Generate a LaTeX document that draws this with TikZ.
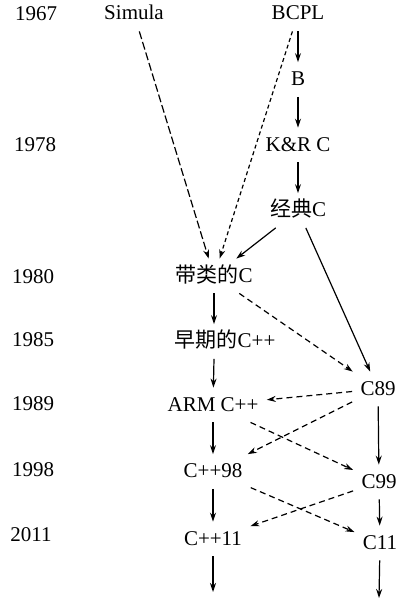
\documentclass[tikz,border=0pt]{standalone}
\usepackage{fontspec}
\setmainfont{Liberation Serif}
\newfontfamily\cjk{Noto Sans CJK SC}
\usetikzlibrary{arrows.meta, positioning}

\begin{document}
\begin{tikzpicture}[
        x=0.5bp, y=-0.5bp,
        node distance=32.75bp,
        font=\fontsize{10.5bp}{12bp}\selectfont,
        % Node styles
        year/.style={inner sep=0pt},
        lang/.style={inner xsep=4bp, inner ysep=4bp, text height=7.5bp, text depth=1.5bp},
        arrow/.style={line width=0.6bp, -{Stealth[length=4.5bp, width=3bp]}},
        longdash/.style={arrow, dash pattern=on 4bp off 1.5bp},
        shortdash/.style={arrow, dash pattern=on 2bp off 1.5bp},
        middash/.style={arrow, dash pattern=on 3bp off 2bp}
    ]
        \useasboundingbox (0,0) rectangle (396,600);

        % Years on the left
        \node[year] (y1967) at (36,14) {1967};
        \node[year] (y1978) at (35,145) {1978};
        \node[year] (y1980) at (33,277) {1980};
        \node[year] (y1985) at (33,340) {1985};
        \node[year] (y1989) at (33,404) {1989};
        \node[year] (y1998) at (33,470) {1998};
        \node[year] (y2011) at (31,535) {2011};

        % Languages
        \node[lang] (simula) at (134,14) {Simula};
        \node[lang] (bcpl) at (298,14) {BCPL};
        \node[lang, below of=bcpl] (b) {B};
        \node[lang, below of=b] (kr) {K\&R C};
        \node[lang, below of=kr] (classic) {{\cjk 经典}C};

        \node[lang] (withc) at (214,276) {{\cjk 带类的}C};
        \node[lang, below of=withc, xshift=5.5bp] (early) {{\cjk 早期的}C++};
        \node[lang] (armcpp) at (213,405) {ARM C++};
        \node[lang, below of=armcpp, yshift=-0.5bp] (cpp98) {C++98};
        \node[lang, below of=cpp98, yshift=-1bp] (cpp11) {C++11};

        \node[lang] (c89) at (378,389) {C89};
        \node[lang] (c99) at (379,482) {C99};
        \node[lang] (c11) at (380,543) {C11};

        % Free ends at the bottom
        \coordinate (cppnext) at (213,592);
        \coordinate (cnext) at (379,598);

        % BCPL line
        \draw[arrow] (bcpl) -- (b);
        \draw[arrow] (b) -- (kr);
        \draw[arrow] (kr) -- (classic);

        % Into C with classes
        \draw[longdash] (simula) -- (withc);
        \draw[shortdash] (bcpl) -- (withc);
        \draw[arrow] (classic) -- (withc);
        \draw[arrow] (classic) -- (c89);
        \draw[middash] (withc) -- (c89);

        % C++ column
        \draw[arrow] (withc) -- (withc |- early.north);
        \draw[arrow] (withc |- early.south) -- (armcpp);
        \draw[arrow] (armcpp) -- (cpp98);
        \draw[arrow] (cpp98) -- (cpp11);
        \draw[arrow] (cpp11) -- (cppnext);

        % C column
        \draw[arrow] (c89) -- (c99);
        \draw[arrow] (c99) -- (c11);
        \draw[arrow] (c11) -- (cnext);

        % Cross links
        \draw[middash] (c89) -- (armcpp);
        \draw[middash] (c89) -- (cpp98);
        \draw[middash] (armcpp) -- (c99);
        \draw[middash] (cpp98) -- (c11);
        \draw[middash] (c99) -- (cpp11);
    \end{tikzpicture}
\end{document}
